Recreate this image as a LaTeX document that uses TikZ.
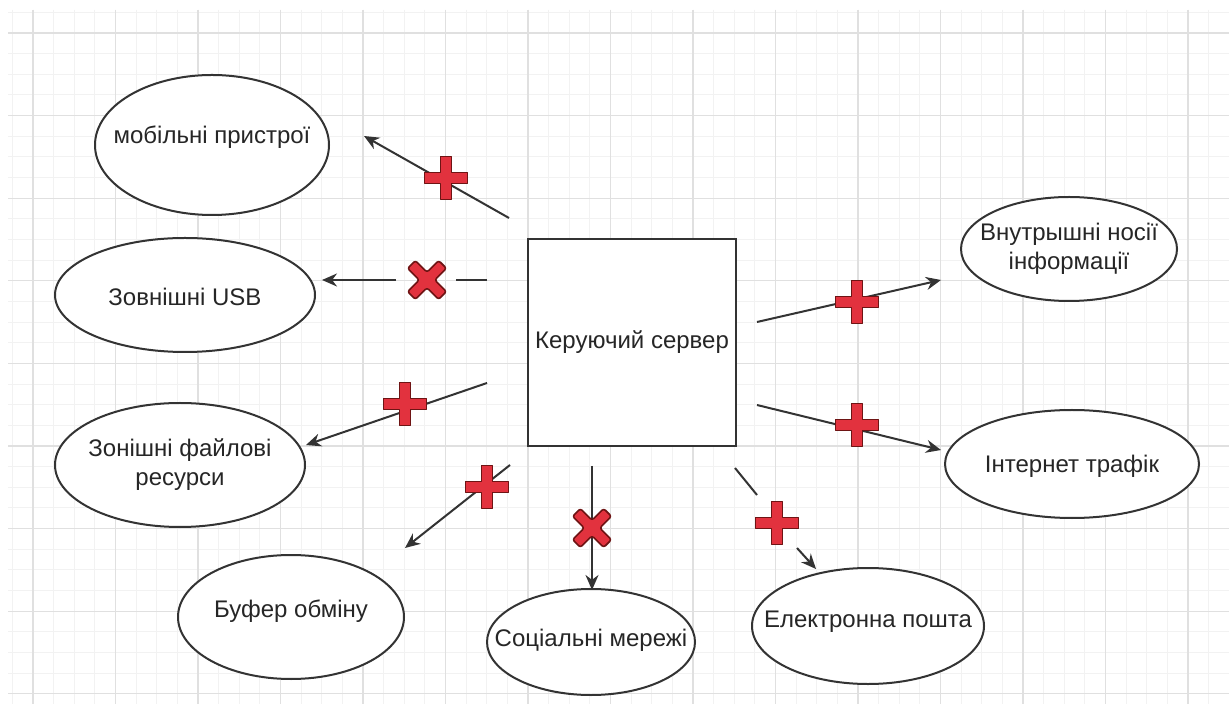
\documentclass[tikz,border=0pt]{standalone}
\usepackage{fontspec}
\setmainfont{Liberation Sans}
\usetikzlibrary{arrows.meta,shapes.geometric}
\definecolor{markred}{HTML}{E2323E}
\definecolor{markdark}{HTML}{6E1414}
\definecolor{inkgray}{HTML}{333333}

\begin{document}
\begin{tikzpicture}[x=0.5pt,y=-0.5pt,
  gridminor/.style={draw=black!5,line width=0.5pt},
  gridmajor/.style={draw=black!12,line width=0.6pt},
  item/.style={ellipse,draw=inkgray,line width=1pt,fill=white,inner sep=0pt},
  itemtext/.style={inner sep=0pt,align=center,
    font=\fontsize{12}{14.5}\selectfont,text=black!85},
  server/.style={rectangle,draw=inkgray,line width=1.2pt,fill=white,
    minimum width=104pt,minimum height=103.5pt,inner sep=0pt,
    font=\fontsize{12}{14.5}\selectfont,text=black!85},
  link/.style={draw=inkgray,line width=1pt},
  arrowlink/.style={link,-{Stealth[length=7.5pt,width=6.5pt]}},
  markshape/.style={fill=markred,draw=markdark,line width=0.8pt,line join=round},
  plusmark/.pic={
    \path[markshape] (-5.5,-21.5) -- (5.5,-21.5) -- (5.5,-5.5) -- (21.5,-5.5)
      -- (21.5,5.5) -- (5.5,5.5) -- (5.5,21.5) -- (-5.5,21.5) -- (-5.5,5.5)
      -- (-21.5,5.5) -- (-21.5,-5.5) -- (-5.5,-5.5) -- cycle;},
  crossmark/.pic={
    \path[markshape,rotate=45,rounded corners=1.2pt] (-5.5,-22) -- (5.5,-22) -- (5.5,-5.5) -- (22,-5.5)
      -- (22,5.5) -- (5.5,5.5) -- (5.5,22) -- (-5.5,22) -- (-5.5,5.5)
      -- (-22,5.5) -- (-22,-5.5) -- (-5.5,-5.5) -- cycle;}
]
\useasboundingbox (0,0) rectangle (1229,704);
\fill[white] (0,0) rectangle (1229,704);

% background grid
\begin{scope}
  \clip (8,10) rectangle (1229,704);
  \foreach \k in {-1,...,58} {\draw[gridminor] ({33+20.625*\k},10) -- ({33+20.625*\k},704);}
  \foreach \k in {-1,...,33} {\draw[gridminor] (8,{33+20.65*\k}) -- (1229,{33+20.65*\k});}
  \foreach \k in {0,...,14} {\draw[gridmajor] ({33+82.5*\k},10) -- ({33+82.5*\k},704);}
  \foreach \k in {0,...,8} {\draw[gridmajor] (8,{33+82.6*\k}) -- (1229,{33+82.6*\k});}
\end{scope}

% central server
\node[server] (srv) at (632,342.5) {Керуючий сервер};

% channels around the server
\node[item,minimum width=117pt,minimum height=70pt] (mob) at (212,145) {};
\node[item,minimum width=130pt,minimum height=57pt] (usb) at (185,295) {};
\node[item,minimum width=125pt,minimum height=62pt] (files) at (180,465) {};
\node[item,minimum width=113pt,minimum height=62pt] (buf) at (291,617) {};
\node[item,minimum width=104pt,minimum height=53pt] (soc) at (591,642) {};
\node[item,minimum width=116pt,minimum height=58pt] (mail) at (868,626) {};
\node[item,minimum width=127pt,minimum height=54pt] (inet) at (1072,464) {};
\node[item,minimum width=108pt,minimum height=52pt] (inner) at (1069,249) {};

\node[itemtext] (mobT) at ([yshift=4pt]mob.center) {мобільні пристрої};
\node[itemtext] (usbT) at ([yshift=-1pt]usb.center) {Зовнішні USB};
\node[itemtext] (filesT) at (files.center) {Зонішні файлові\\ресурси};
\node[itemtext] (bufT) at ([yshift=3pt]buf.center) {Буфер обміну};
\node[itemtext] (socT) at ([yshift=1pt]soc.center) {Соціальні мережі};
\node[itemtext] (mailT) at ([yshift=2pt]mail.center) {Електронна пошта};
\node[itemtext] (inetT) at ([yshift=-1pt]inet.center) {Інтернет трафік};
\node[itemtext] (innerT) at (inner.center) {Внутрышні носії\\інформації};

% connector end points
\coordinate (mobA) at (509,218);  \coordinate (mobB) at (364,136);
\coordinate (usbA) at (487,280);  \coordinate (usbA2) at (456,280);
\coordinate (usbB1) at (396,280); \coordinate (usbB) at (322,280);
\coordinate (filA) at (487,383);  \coordinate (filB) at (306,445);
\coordinate (bufA) at (510,465);  \coordinate (bufB) at (405,548);
\coordinate (socA) at (592,466);  \coordinate (socB) at (592,590);
\coordinate (mailA) at (735,468); \coordinate (mailA2) at (757,495);
\coordinate (mailB1) at (797,548); \coordinate (mailB) at (816,569);
\coordinate (inA) at (757,322);   \coordinate (inB) at (941,280);
\coordinate (netA) at (757,405);  \coordinate (netB) at (941,450);

% connectors
\draw[arrowlink] (mobA) -- (mobB);
\draw[link] (usbA) -- (usbA2);
\draw[arrowlink] (usbB1) -- (usbB);
\draw[arrowlink] (filA) -- (filB);
\draw[arrowlink] (bufA) -- (bufB);
\draw[arrowlink] (socA) -- (socB);
\draw[link] (mailA) -- (mailA2);
\draw[arrowlink] (mailB1) -- (mailB);
\draw[arrowlink] (inA) -- (inB);
\draw[arrowlink] (netA) -- (netB);

% allowed / blocked marks
\pic at (446,178) {plusmark};
\pic at (427,280) {crossmark};
\pic at (405,404) {plusmark};
\pic at (487,487) {plusmark};
\pic at (592,528) {crossmark};
\pic at (777,523) {plusmark};
\pic at (857,302) {plusmark};
\pic at (857,425) {plusmark};
\end{tikzpicture}
\end{document}
